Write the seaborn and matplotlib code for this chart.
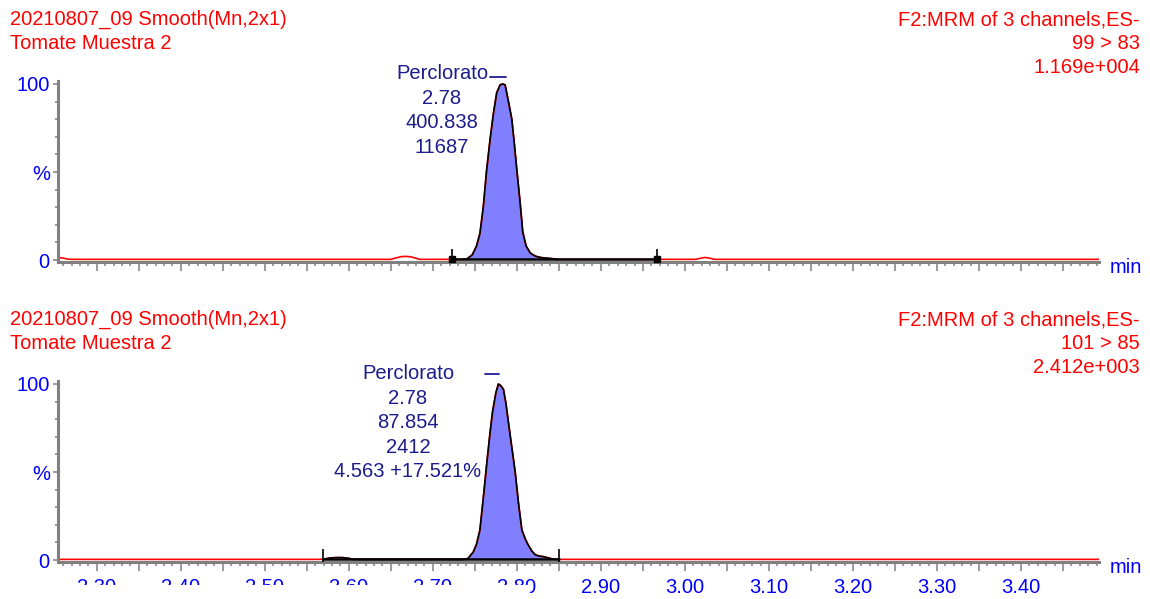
import numpy as np
import pandas as pd
import matplotlib
matplotlib.use("Agg")
import matplotlib.pyplot as plt
import seaborn as sns
from matplotlib.ticker import MultipleLocator, FixedLocator, FuncFormatter
from matplotlib.patches import Rectangle

# ---- data ----
# channel 99 > 83
t_top = [2.253, 2.258, 2.262, 2.266, 2.270, 2.650, 2.656, 2.662, 2.667, 2.673, 2.679,
         2.684, 2.736, 2.741, 2.747, 2.752, 2.756, 2.760, 2.764, 2.768, 2.772, 2.776,
         2.780, 2.783, 2.786, 2.790, 2.794, 2.797, 2.800, 2.804, 2.807, 2.811, 2.816,
         2.822, 2.828, 2.835, 2.842, 2.848, 3.013, 3.018, 3.024, 3.030, 3.035, 3.493]
i_top = [1.3, 1.3, 0.9, 0.5, 0.4, 0.4, 1.2, 1.9, 2.1, 1.9, 1.2,
         0.4, 0.4, 0.8, 3.0, 8.0, 15, 30, 51, 68, 83, 95,
         99.5, 100, 99.5, 90, 80, 66, 51, 32, 16, 8.0, 4.0,
         2.2, 1.5, 1.1, 0.8, 0.4, 0.4, 1.0, 1.5, 1.0, 0.4, 0.4]

# channel 101 > 85
t_bot = [2.253, 2.565, 2.570, 2.578, 2.585, 2.592, 2.600, 2.605, 2.738, 2.742, 2.748,
         2.752, 2.756, 2.760, 2.764, 2.768, 2.771, 2.775, 2.778, 2.781, 2.784, 2.787,
         2.790, 2.794, 2.798, 2.802, 2.806, 2.810, 2.813, 2.818, 2.822, 2.827, 2.831,
         2.837, 2.843, 2.850, 3.493]
i_bot = [0.4, 0.4, 0.5, 1.2, 1.4, 1.4, 1.0, 0.4, 0.4, 1.0, 4.5,
         9.0, 17, 35, 54, 72, 84, 95, 100, 99, 97, 89,
         78, 64, 50, 32, 17, 12, 9.0, 5.0, 3.0, 2.2, 2.0,
         1.3, 0.5, 0.4, 0.4]

# integration start / end (min) and baseline level (%)
integ_top = [2.723, 2.967]
integ_bot = [2.569, 2.850]
fill_start = [2.736, 2.738]
base_level = 0.4

headers_left = ["20210807_09 Smooth(Mn,2x1)", "Tomate Muestra 2"]
headers_right_top = ["F2:MRM of 3 channels,ES-", "99 > 83", "1.169e+004"]
headers_right_bot = ["F2:MRM of 3 channels,ES-", "101 > 85", "2.412e+003"]
peak_top = ["Perclorato", "2.78", "400.838", "11687"]
peak_bot = ["Perclorato", "2.78", "87.854", "2412", "4.563 +17.521%"]

RED = "#ff0000"
BLUE = "#0000ff"
NAVY = "#1c1c8c"
FILL = "#8080ff"
GREY = "#808080"

sns.set_style("white")
plt.rcParams["font.family"] = ["Liberation Sans", "DejaVu Sans"]
FS = 14.5

W, H = 1150, 599
fig = plt.figure(figsize=(W / 100, H / 100), dpi=100)


def fx(x):
    return x / W


def fy(y):
    return 1 - y / H


def draw_panel(ax, t, inten, integ, fstart, show_labels):
    df = pd.DataFrame({"t": t, "i": inten})
    inside = df[(df.t >= integ[0]) & (df.t <= integ[1])]
    fill = df[(df.t >= fstart) & (df.t <= integ[1])]
    ax.fill_between(fill.t, base_level, fill.i, color=FILL, lw=0, zorder=1)
    sns.lineplot(data=df, x="t", y="i", ax=ax, color=RED, lw=1.2, zorder=2)
    sns.lineplot(data=inside, x="t", y="i", ax=ax, color="black", lw=1.2, zorder=3)
    ax.plot(integ, [base_level, base_level], color="black", lw=1.8, zorder=4)
    ax.vlines(integ, -1, 6.5, color="black", lw=1.2, zorder=4)

    ax.set_xlim(2.2533, 3.4928)
    ax.set_ylim(-1.1, 101.7)
    ax.set_xlabel("")
    ax.set_ylabel("")
    for s in ["top", "right"]:
        ax.spines[s].set_visible(False)
    for s in ["left", "bottom"]:
        ax.spines[s].set_color(GREY)
        ax.spines[s].set_linewidth(2.2)

    ax.xaxis.set_major_locator(MultipleLocator(0.05))
    ax.xaxis.set_minor_locator(MultipleLocator(0.01))
    if show_labels:
        ax.xaxis.set_major_formatter(FuncFormatter(
            lambda v, p: f"{v:.2f}" if round(v * 100) % 10 == 0 else ""))
    else:
        ax.set_xticklabels([])
    ax.yaxis.set_major_locator(FixedLocator([0, 50, 100]))
    ax.yaxis.set_minor_locator(FixedLocator([10, 20, 30, 40, 60, 70, 80, 90]))
    ax.set_yticklabels(["0", "%", "100"])
    ax.tick_params(axis="x", which="major", direction="out", length=6.5, width=1.1,
                   color=GREY, labelcolor=BLUE, labelsize=FS, pad=5, bottom=True)
    ax.tick_params(axis="x", which="minor", direction="out", length=3, width=1.1,
                   color=GREY, bottom=True)
    ax.tick_params(axis="y", which="major", direction="out", length=3.5, width=1.1,
                   color=GREY, labelcolor=BLUE, labelsize=FS, pad=2, left=True)
    ax.tick_params(axis="y", which="minor", direction="out", length=2.2, width=1.1,
                   color=GREY, left=True)
    ax.grid(False)


for k, (t, inten, integ, fs, right, peak, dash) in enumerate([
        (t_top, i_top, integ_top, fill_start[0], headers_right_top, peak_top, (490, 506, 442)),
        (t_bot, i_bot, integ_bot, fill_start[1], headers_right_bot, peak_bot, (485, 499, 408))]):
    off = 300 * k
    ax = fig.add_axes([fx(57.5), fy(262 + off), fx(1099) - fx(57.5), (262 - 81) / H])
    draw_panel(ax, t, inten, integ, fs, show_labels=(k == 1))
    # integration end squares (top trace only)
    if k == 0:
        ax.plot(integ, [base_level, base_level], ls="none", marker="s", ms=4,
                color="black", zorder=5, clip_on=False)

    for j, txt in enumerate(headers_left):
        fig.text(fx(10), fy(25 + 24 * j + off), txt, color=RED, fontsize=FS,
                 ha="left", va="baseline")
    for j, txt in enumerate(right):
        fig.text(fx(1140), fy(25 + 24 * j + off), txt, color=RED, fontsize=FS,
                 ha="right", va="baseline")
    for j, txt in enumerate(peak):
        fig.text(fx(dash[2]), fy(79 + 24.6 * j + off), txt, color=NAVY, fontsize=FS,
                 ha="center", va="baseline")
    fig.text(fx(1110), fy(273 + off), "min", color=BLUE, fontsize=FS,
             ha="left", va="baseline")
    # apex marker dash
    yd = fy(77 + off - (3 if k == 1 else 0))
    fig.add_artist(plt.Line2D([fx(dash[0]), fx(dash[1])], [yd, yd], color=NAVY, lw=1.3))

# the lower-left tick labels are cut off in the original
fig.add_artist(Rectangle((fx(58), 0), fx(530) - fx(58), (H - 585) / H,
                         transform=fig.transFigure, facecolor="white",
                         edgecolor="none", zorder=10))

fig.savefig("out.png", dpi=100)
